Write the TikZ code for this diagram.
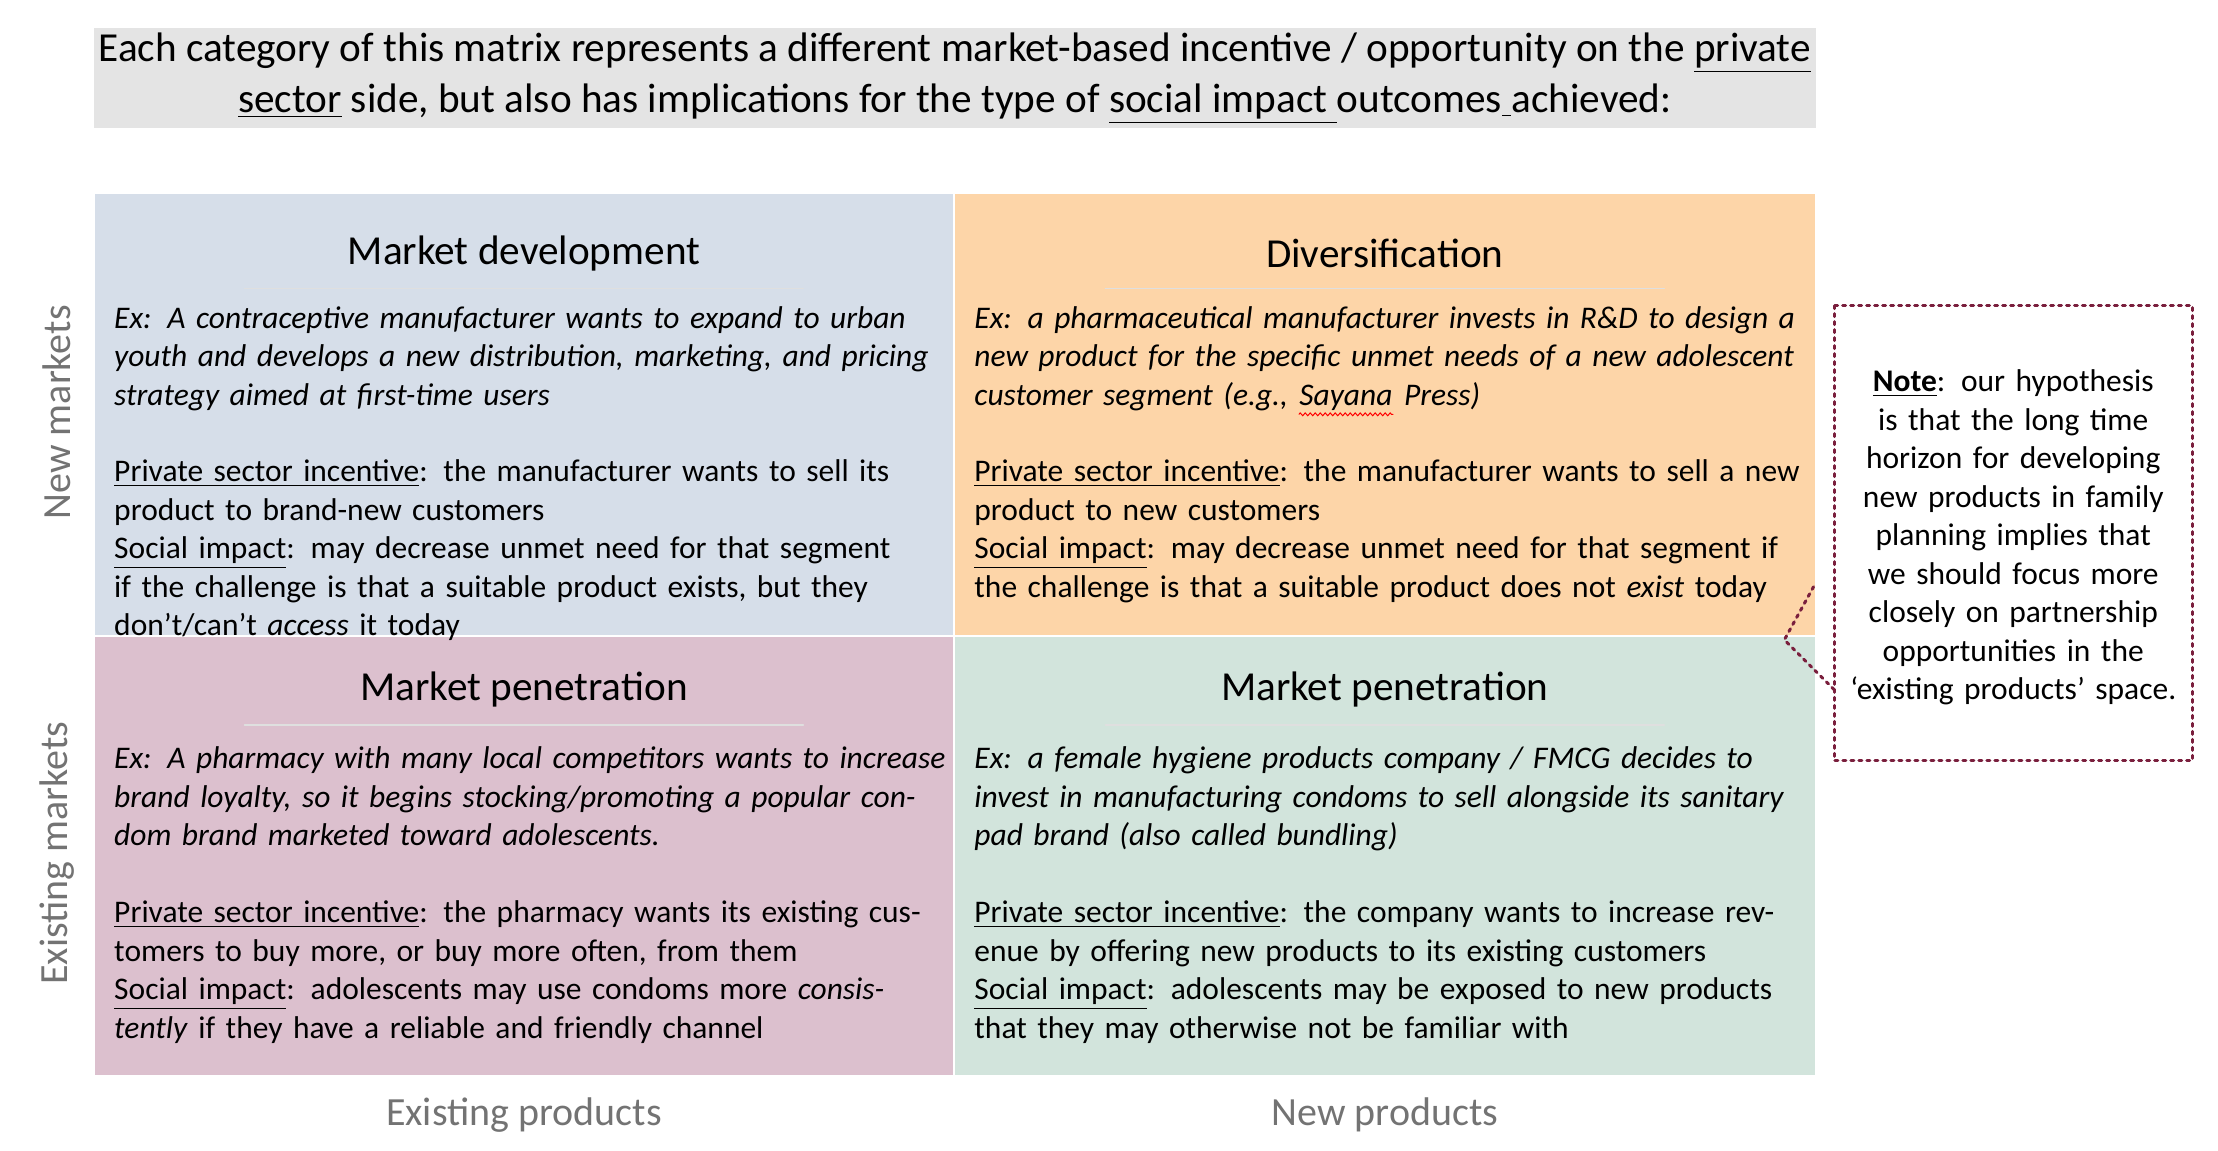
\documentclass[tikz,border=0pt]{standalone}
\usepackage{fontspec}
\setmainfont{Carlito}
\usetikzlibrary{positioning,decorations.pathmorphing}
\definecolor{topgray}{HTML}{E4E4E4}
\definecolor{qblue}{HTML}{D6DEE9}
\definecolor{qpeach}{HTML}{FDD5A8}
\definecolor{qpink}{HTML}{DCC0CE}
\definecolor{qmint}{HTML}{D2E4DC}
\definecolor{notered}{HTML}{7A1F3D}
\newcommand{\wavyword}[1]{\tikz[baseline=(w.base)]{\node[inner sep=0pt] (w) {#1};
  \draw[red, line width=0.4pt, decorate, decoration={zigzag, amplitude=0.6pt, segment length=2pt}]
    ([yshift=-1.5pt]w.south west) -- ([yshift=-1.5pt]w.south east);}}
\tikzset{every picture/.style={line cap=round, line join=round}}
\tikzset{quad/.style={draw=white, line width=0.8pt}}
\tikzset{title/.style={font=\fontsize{16.5}{20}\selectfont, anchor=center}}
\tikzset{rule/.style={draw=gray!25, line width=0.6pt}}
\tikzset{body/.style={anchor=north west, align=left, text width=11.7cm, inner sep=0pt,
  font=\fontsize{12.6}{15.4}\selectfont}}
\tikzset{axis/.style={text=gray!90!black, font=\fontsize{16}{19}\selectfont}}
\tikzset{note/.style={draw=notered, dotted, line width=1.2pt}}
\begin{document}
\begin{tikzpicture}
  \useasboundingbox (0,0) rectangle (31.2,-16.18);
  % header
  \fill[topgray] (1.32,-0.4) rectangle (25.54,-1.8);
  \node[align=center, font=\fontsize{16.5}{20.5}\selectfont] (head) at (13.43,-1.1)
    {Each category of this matrix represents a different market-based incentive / opportunity on the \underline{private}\\
     \underline{sector} side, but also has implications for the type of \underline{social impact }outcomes\underline{ }achieved:};

  % quadrants
  \filldraw[quad, fill=qblue]  (1.32,-2.72) rectangle (13.42,-8.94);
  \filldraw[quad, fill=qpeach] (13.42,-2.72) rectangle (25.54,-8.94);
  \filldraw[quad, fill=qpink]  (1.32,-8.94) rectangle (13.42,-15.14);
  \filldraw[quad, fill=qmint]  (13.42,-8.94) rectangle (25.54,-15.14);

  % titles
  \node[title] (mdev) at (7.37,-3.56) {Market development};
  \node[title] (div)  at (19.48,-3.56) {Diversification};
  \node[title] (mpen) at (7.37,-9.7) {Market penetration};
  \node[title] (mpen2) at (19.48,-9.7) {Market penetration};
  \draw[rule] (3.44,-4.06) -- (11.3,-4.06);
  \draw[rule] (15.55,-4.06) -- (23.41,-4.06);
  \draw[rule] (3.44,-10.2) -- (11.3,-10.2);
  \draw[rule] (15.55,-10.2) -- (23.41,-10.2);

  % bodies
  \node[body] (tl) at (1.6,-4.3) {\textit{Ex: A contraceptive manufacturer wants to expand to urban youth and develops a new distribution, marketing, and pricing strategy aimed at first-time users}\\[15.4pt]
    \underline{Private sector incentive}: the manufacturer wants to sell its product to brand-new customers\\
    \underline{Social impact}: may decrease unmet need for that segment if the challenge is that a suitable product exists, but they don’t/can’t \textit{access} it today};
  \node[body] (tr) at (13.7,-4.3) {\textit{Ex: a pharmaceutical manufacturer invests in R\&D to design a new product for the specific unmet needs of a new adolescent customer segment (e.g., \wavyword{\textit{Sayana}} Press)}\\[15.4pt]
    \underline{Private sector incentive}: the manufacturer wants to sell a new product to new customers\\
    \underline{Social impact}: may decrease unmet need for that segment if the challenge is that a suitable product does not \textit{exist} today};
  \node[body] (bl) at (1.6,-10.5) {\textit{Ex: A pharmacy with many local competitors wants to increase brand loyalty, so it begins stocking/promoting a popular condom brand marketed toward adolescents.}\\[15.4pt]
    \underline{Private sector incentive}: the pharmacy wants its existing customers to buy more, or buy more often, from them\\
    \underline{Social impact}: adolescents may use condoms more \textit{consistently} if they have a reliable and friendly channel};
  \node[body] (br) at (13.7,-10.5) {\textit{Ex: a female hygiene products company / FMCG decides to invest in manufacturing condoms to sell alongside its sanitary pad brand (also called bundling)}\\[15.4pt]
    \underline{Private sector incentive}: the company wants to increase revenue by offering new products to its existing customers\\
    \underline{Social impact}: adolescents may be exposed to new products that they may otherwise not be familiar with};

  % axes
  \node[axis, rotate=90] (newm) at (0.8,-5.8) {New markets};
  \node[axis, rotate=90] (exm) at (0.8,-12.0) {Existing markets};
  \node[axis] (exp) at (7.37,-15.68) {Existing products};
  \node[axis] (newp) at (19.48,-15.68) {New products};

  % note
  \draw[note] (25.8,-4.3) rectangle (30.84,-10.7);
  \node[align=center, text width=4.7cm, font=\fontsize{12.6}{15.4}\selectfont] (notetxt) at (28.32,-7.56)
    {\underline{\textbf{Note}}: our hypothesis is that the long time horizon for developing new products in family planning implies that we should focus more closely on partnership opportunities in the ‘existing products’ space.};
  \coordinate (tipa) at (25.8,-9.7);
  \coordinate (tipb) at (25.1,-9.0);
  \coordinate (tipc) at (25.54,-8.2);
  \draw[note] (tipa) -- (tipb) -- (tipc);
\end{tikzpicture}
\end{document}
